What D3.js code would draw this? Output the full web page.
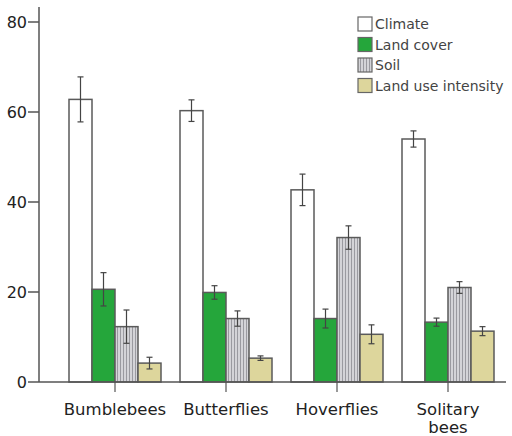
<!DOCTYPE html>
<html><head><meta charset="utf-8">
<script src="https://cdn.jsdelivr.net/npm/d3@7"></script>
<style>body{margin:0;background:#fff}svg{display:block}</style>
</head><body>
<script>
const categories = ["Bumblebees", "Butterflies", "Hoverflies", "Solitary bees"];
const seriesNames = ["Climate", "Land cover", "Soil", "Land use intensity"];
const climate = [62.8, 60.3, 42.7, 54.0];
const climateErr = [5.0, 2.4, 3.5, 1.8];
const landCover = [20.6, 19.9, 14.1, 13.3];
const landCoverErr = [3.7, 1.5, 2.1, 0.9];
const soil = [12.3, 14.1, 32.1, 21.0];
const soilErr = [3.7, 1.7, 2.6, 1.3];
const landUse = [4.2, 5.3, 10.6, 11.3];
const landUseErr = [1.3, 0.5, 2.1, 1.0];
const yTicks = [0, 20, 40, 60, 80];

const values = [climate, landCover, soil, landUse];
const errs = [climateErr, landCoverErr, soilErr, landUseErr];
const fills = ["#ffffff", "#25a63b", "url(#hatch)", "#ddd69c"];

const W = 512, H = 436;
const svg = d3.select("body").append("svg").attr("width", W).attr("height", H);
const defs = svg.append("defs");
const pat = defs.append("pattern").attr("id", "hatch").attr("patternUnits", "userSpaceOnUse")
  .attr("width", 3).attr("height", 10);
pat.append("rect").attr("width", 3).attr("height", 10).attr("fill", "#d4d4d8");
pat.append("rect").attr("x", 0).attr("width", 1).attr("height", 10).attr("fill", "#9a9aa0");

const y = d3.scaleLinear().domain([0, 80]).range([382, 22]);
const x0 = d3.scaleBand().domain(categories).range([59.5, 503.5]).padding(0);
const x1 = d3.scaleBand().domain(seriesNames).range([-46, 46]).padding(0);

const axisColor = "#555";
const font = "'DejaVu Sans', Verdana, sans-serif";

// bars
categories.forEach((c, ci) => {
  const cx = x0(c) + x0.bandwidth() / 2;
  seriesNames.forEach((s, si) => {
    const v = values[si][ci], e = errs[si][ci];
    const bx = cx + x1(s);
    svg.append("rect").attr("x", bx).attr("y", y(v)).attr("width", x1.bandwidth())
      .attr("height", y(0) - y(v)).attr("fill", fills[si])
      .attr("stroke", "#5a5a5a").attr("stroke-width", 1.5);
    const ex = bx + x1.bandwidth() / 2;
    const g = svg.append("g").attr("stroke", "#444").attr("stroke-width", 1.2);
    g.append("line").attr("x1", ex).attr("x2", ex).attr("y1", y(v + e)).attr("y2", y(v - e));
    g.append("line").attr("x1", ex - 3).attr("x2", ex + 3).attr("y1", y(v + e)).attr("y2", y(v + e));
    g.append("line").attr("x1", ex - 3).attr("x2", ex + 3).attr("y1", y(v - e)).attr("y2", y(v - e));
  });
});

// y axis
svg.append("line").attr("x1", 39).attr("x2", 39).attr("y1", 7).attr("y2", 382)
  .attr("stroke", axisColor).attr("stroke-width", 1.5);
yTicks.forEach(t => {
  svg.append("line").attr("x1", 28).attr("x2", 39).attr("y1", y(t)).attr("y2", y(t))
    .attr("stroke", axisColor).attr("stroke-width", 1.5);
  svg.append("text").attr("x", 27).attr("y", y(t)).attr("dy", "0.36em")
    .attr("text-anchor", "end").attr("font-family", font).attr("font-size", 16)
    .attr("fill", "#222").text(t);
});

// x axis
svg.append("line").attr("x1", 39).attr("x2", 506).attr("y1", 382).attr("y2", 382)
  .attr("stroke", axisColor).attr("stroke-width", 1.5);
categories.forEach(c => {
  const cx = x0(c) + x0.bandwidth() / 2;
  svg.append("line").attr("x1", cx).attr("x2", cx).attr("y1", 382).attr("y2", 392)
    .attr("stroke", axisColor).attr("stroke-width", 1.2);
  const words = c === "Solitary bees" ? ["Solitary", "bees"] : [c];
  words.forEach((w, i) => {
    svg.append("text").attr("x", cx).attr("y", 415 + i * 18).attr("text-anchor", "middle")
      .attr("font-family", font).attr("font-size", 16.5).attr("fill", "#222").text(w);
  });
});

// legend
seriesNames.forEach((s, i) => {
  const ly = 17 + i * 20.5;
  svg.append("rect").attr("x", 358).attr("y", ly).attr("width", 14).attr("height", 14)
    .attr("fill", fills[i]).attr("stroke", "#666").attr("stroke-width", 1.2);
  svg.append("text").attr("x", 375).attr("y", ly + 7).attr("dy", "0.36em")
    .attr("font-family", font).attr("font-size", 14).attr("fill", "#444").text(s);
});
</script>
</body></html>
